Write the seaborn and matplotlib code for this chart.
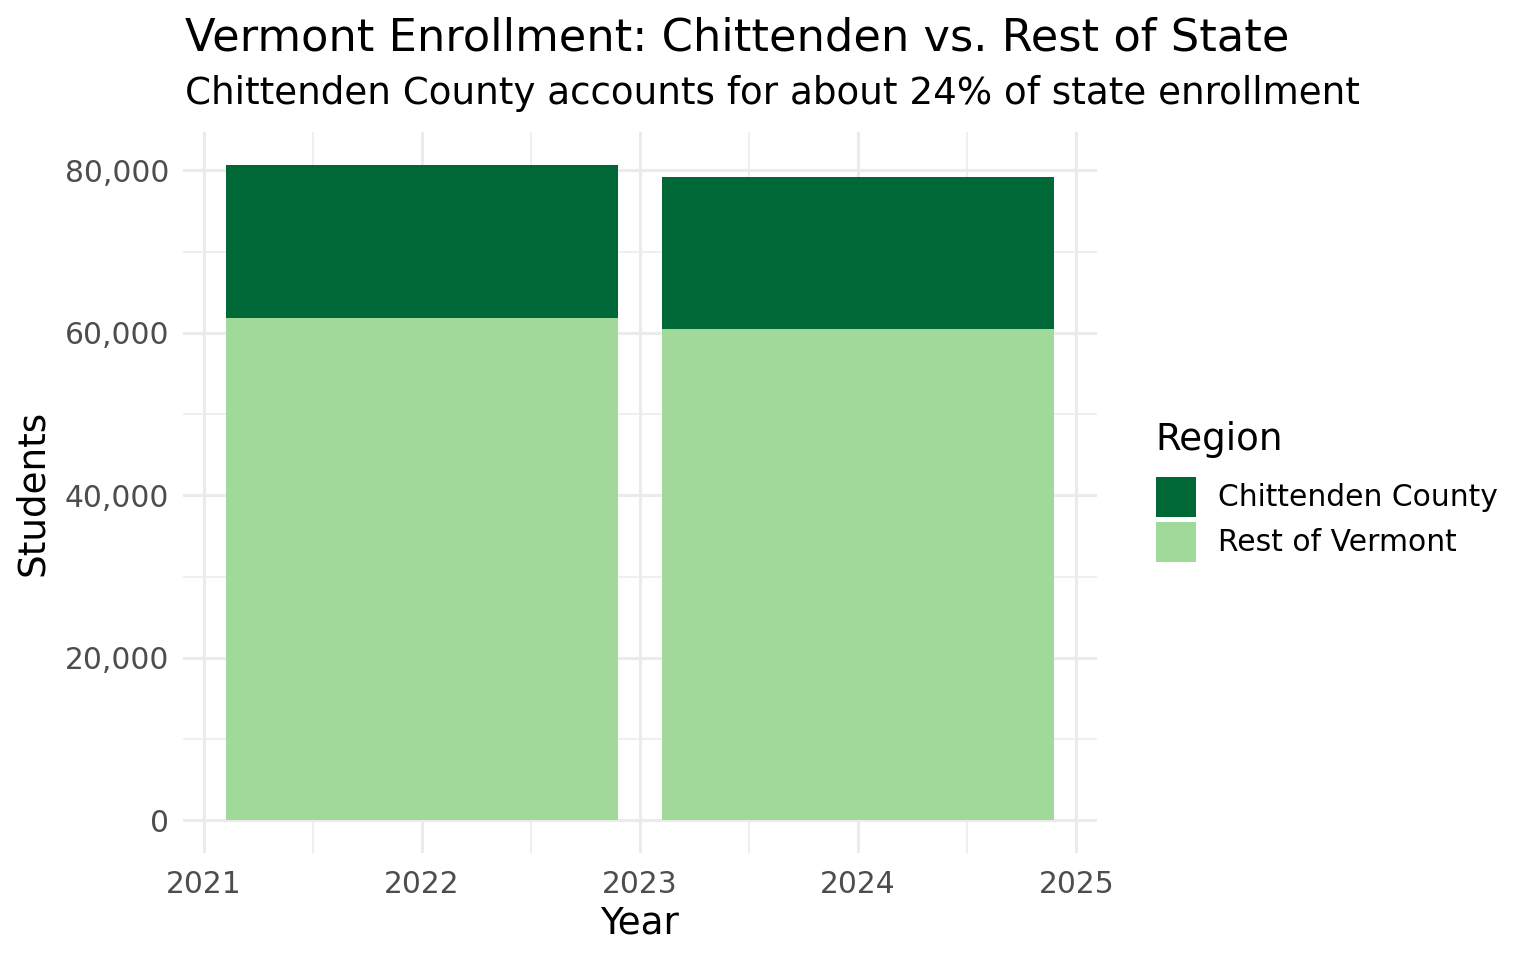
import matplotlib.pyplot as plt
import matplotlib.patches as mpatches
from matplotlib.ticker import FuncFormatter, MultipleLocator
import pandas as pd
import seaborn as sns

# Data
years = [2022, 2024]
chittenden = [18900, 18760]
rest_of_vermont = [61800, 60460]
regions = ['Chittenden County', 'Rest of Vermont']
colors = {'Chittenden County': '#006837', 'Rest of Vermont': '#A1D99B'}

df = pd.DataFrame({'year': years, 'chittenden': chittenden, 'rest': rest_of_vermont})
df['total'] = df['chittenden'] + df['rest']

sns.set_style('white')
plt.rcParams['font.family'] = ['DejaVu Sans']
plt.rcParams['text.color'] = 'black'
plt.rcParams['axes.labelcolor'] = 'black'

fig = plt.figure(figsize=(7.68, 4.8), dpi=200)
ax = fig.add_axes([183 / 1536, 1 - 853 / 960, (1097 - 183) / 1536, (853 - 132) / 960])

# stacked: full total in dark green, rest drawn over it
sns.barplot(data=df, x='year', y='total', native_scale=True, width=0.9,
            color=colors['Chittenden County'], saturation=1, linewidth=0,
            ax=ax, zorder=2)
sns.barplot(data=df, x='year', y='rest', native_scale=True, width=0.9,
            color=colors['Rest of Vermont'], saturation=1, linewidth=0,
            ax=ax, zorder=2)

ymax = df['total'].max()
ax.set_xlim(2020.905, 2025.095)
ax.set_ylim(-0.05 * ymax, 1.05 * ymax)
ax.set_xticks([2021, 2022, 2023, 2024, 2025])
ax.xaxis.set_minor_locator(MultipleLocator(0.5))
ax.yaxis.set_major_locator(MultipleLocator(20000))
ax.yaxis.set_minor_locator(MultipleLocator(10000))
ax.yaxis.set_major_formatter(FuncFormatter(lambda v, p: f'{int(v):,}'))

ax.grid(which='major', color='#EBEBEB', linewidth=1.1, zorder=0)
ax.grid(which='minor', color='#EBEBEB', linewidth=0.55, zorder=0)
ax.set_axisbelow(True)
for s in ax.spines.values():
    s.set_visible(False)
ax.tick_params(which='both', length=0, labelsize=10.7, labelcolor='#4D4D4D')
ax.tick_params(axis='x', pad=6)
ax.tick_params(axis='y', pad=5)

ax.set_xlabel('Year', fontsize=13.4, labelpad=2)
ax.set_ylabel('Students', fontsize=13.4, labelpad=5)

fig.text(185 / 1536, 1 - 38 / 960, 'Vermont Enrollment: Chittenden vs. Rest of State',
         fontsize=16.1, va='center', ha='left')
fig.text(185 / 1536, 1 - 93 / 960, 'Chittenden County accounts for about 24% of state enrollment',
         fontsize=13.4, va='center', ha='left')

# legend title placed on its own, entries below
fig.text(1155 / 1536, 1 - 440 / 960, 'Region', fontsize=13.4, va='center', ha='left')
handles = [mpatches.Patch(color=colors[r], label=r, linewidth=0) for r in regions]
leg = fig.legend(handles=handles, loc='upper left',
                 bbox_to_anchor=(1132 / 1536, 1 - 453 / 960), frameon=False,
                 fontsize=10.7, handlelength=1.35, handleheight=1.69,
                 handletextpad=0.74, labelspacing=0.17, borderpad=0.3)

fig.savefig('out.png', dpi=200)
